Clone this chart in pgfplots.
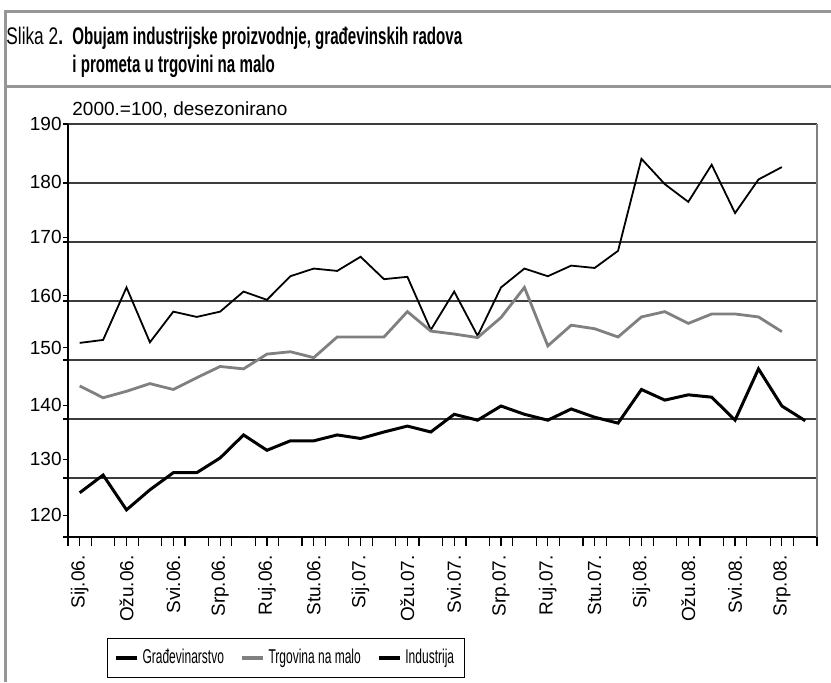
\documentclass[border=0pt]{standalone}
\usepackage{fontspec}
\setmainfont{Liberation Sans}
\newfontfamily\titlefont[FakeStretch=0.63]{Liberation Sans}
\newfontfamily\slikafont[FakeStretch=0.72]{Liberation Sans}
\newfontfamily\condfont[FakeStretch=0.6]{Liberation Sans}
\usepackage{pgfplots}
\pgfplotsset{compat=1.18}
\definecolor{framegray}{RGB}{150,150,150}
\definecolor{retailgray}{RGB}{128,128,128}
\definecolor{gridgray}{RGB}{60,60,60}
\newcommand{\ticksize}{\fontsize{9.5}{11}\selectfont}

\begin{document}
\begin{tikzpicture}
\useasboundingbox (0,0) rectangle (415.5pt,341pt);
\fill[white] (0,0) rectangle (415.5pt,341pt);
% frame
\draw[framegray, line width=1.5pt] (2.5pt,0pt) -- (2.5pt,335pt) -- (415.5pt,335pt);
\draw[framegray, line width=1.5pt] (2.5pt,297.5pt) -- (415.5pt,297.5pt);
% title
\node[anchor=base west, inner sep=0pt, font=\slikafont\fontsize{12}{14}\selectfont] at (3pt,318.5pt) {Slika 2\textbf{.}};
\node[anchor=base west, inner sep=0pt, font=\titlefont\bfseries\fontsize{12}{14}\selectfont] at (36pt,318.5pt) {Obujam industrijske proizvodnje, građevinskih radova};
\node[anchor=base west, inner sep=0pt, font=\titlefont\bfseries\fontsize{12}{14}\selectfont] at (36pt,305pt) {i prometa u trgovini na malo};
\node[anchor=base west, inner sep=0pt, font=\fontsize{9.5}{10}\selectfont] at (36pt,283.5pt) {2000.=100, desezonirano};

\begin{axis}[
  at={(34pt,72.5pt)}, anchor=south west,
  scale only axis, width=374.5pt, height=206.5pt,
  xmin=-0.5, xmax=31.5, ymin=120, ymax=190,
  axis lines=left, axis line style={-, black, line width=0.8pt},
  tick align=outside,
  /pgf/number format/assume math mode=true,
  xtick={-0.5,0.5,...,31.5}, xticklabels={},
  ytick={120,130,140,150,160,170,180,190}, yticklabels={},
  ymajorgrids, grid style={gridgray, line width=0.7pt},
  tick style={black, line width=0.6pt},
  xtick style={/pgfplots/major tick length=4.5pt},
  ytick style={/pgfplots/major tick length=2.5pt},
  extra x ticks={0,2,...,30},
  extra x tick labels={Sij.06.,Ožu.06.,Svi.06.,Srp.06.,Ruj.06.,Stu.06.,Sij.07.,Ožu.07.,Svi.07.,Srp.07.,Ruj.07.,Stu.07.,Sij.08.,Ožu.08.,Svi.08.,Srp.08.},
  extra x tick style={/pgfplots/major tick length=0pt, grid=none,
     tick label style={font=\ticksize, yshift=-9pt, rotate=90, anchor=east, inner sep=0pt}},
  extra y ticks={190,180.1,170.8,160.9,152.1,142.3,133.2,123.7},
  extra y tick labels={190,180,170,160,150,140,130,120},
  extra y tick style={/pgfplots/major tick length=0pt, grid=none,
     tick label style={font=\ticksize, anchor=east, inner sep=0pt, xshift=-3pt}},
  extra description/.code={\draw[black!50, line width=1.1pt] (rel axis cs:1,0) -- (rel axis cs:1,1);},
  legend style={at={(0.2911,-0.2935)}, anchor=center, legend columns=3, draw=black, line width=0.5pt,
     font=\condfont\fontsize{10}{11}\selectfont, inner xsep=3pt, inner ysep=3.5pt,
     /tikz/every even column/.append style={column sep=6pt}},
  legend image code/.code={\draw[#1, line width=1.8pt] (0pt,0pt) -- (10.5pt,0pt);},
]
\addplot[black, line width=0.9pt] coordinates {
(0,152.9)(1,153.4)(2,162.3)(3,153.0)(4,158.2)(5,157.3)(6,158.2)(7,161.6)(8,160.2)(9,164.2)
(10,165.5)(11,165.1)(12,167.5)(13,163.7)(14,164.1)(15,155.1)(16,161.6)(17,154.1)(18,162.3)(19,165.5)
(20,164.2)(21,166.0)(22,165.6)(23,168.5)(24,184.1)(25,179.8)(26,176.8)(27,183.1)(28,174.9)(29,180.6)
(30,182.7)};
\addlegendentry{Građevinarstvo}
\addplot[retailgray, line width=1.4pt] coordinates {
(0,145.6)(1,143.6)(2,144.7)(3,146.0)(4,145.0)(5,147.0)(6,148.9)(7,148.5)(8,151.0)(9,151.4)
(10,150.4)(11,153.9)(12,153.9)(13,153.9)(14,158.2)(15,154.9)(16,154.4)(17,153.8)(18,157.2)(19,162.3)
(20,152.4)(21,155.9)(22,155.3)(23,153.9)(24,157.3)(25,158.2)(26,156.2)(27,157.8)(28,157.8)(29,157.3)
(30,154.8)};
\addlegendentry{Trgovina na malo}
\addplot[black, line width=1.5pt] coordinates {
(0,127.5)(1,130.5)(2,124.6)(3,128.0)(4,130.9)(5,130.9)(6,133.4)(7,137.3)(8,134.7)(9,136.3)
(10,136.3)(11,137.3)(12,136.7)(13,137.8)(14,138.8)(15,137.8)(16,140.8)(17,139.8)(18,142.2)(19,140.8)
(20,139.8)(21,141.7)(22,140.3)(23,139.3)(24,145.0)(25,143.2)(26,144.1)(27,143.7)(28,139.8)(29,148.5)
(30,142.2)(31,139.7)};
\addlegendentry{Industrija}
\end{axis}
\end{tikzpicture}
\end{document}
